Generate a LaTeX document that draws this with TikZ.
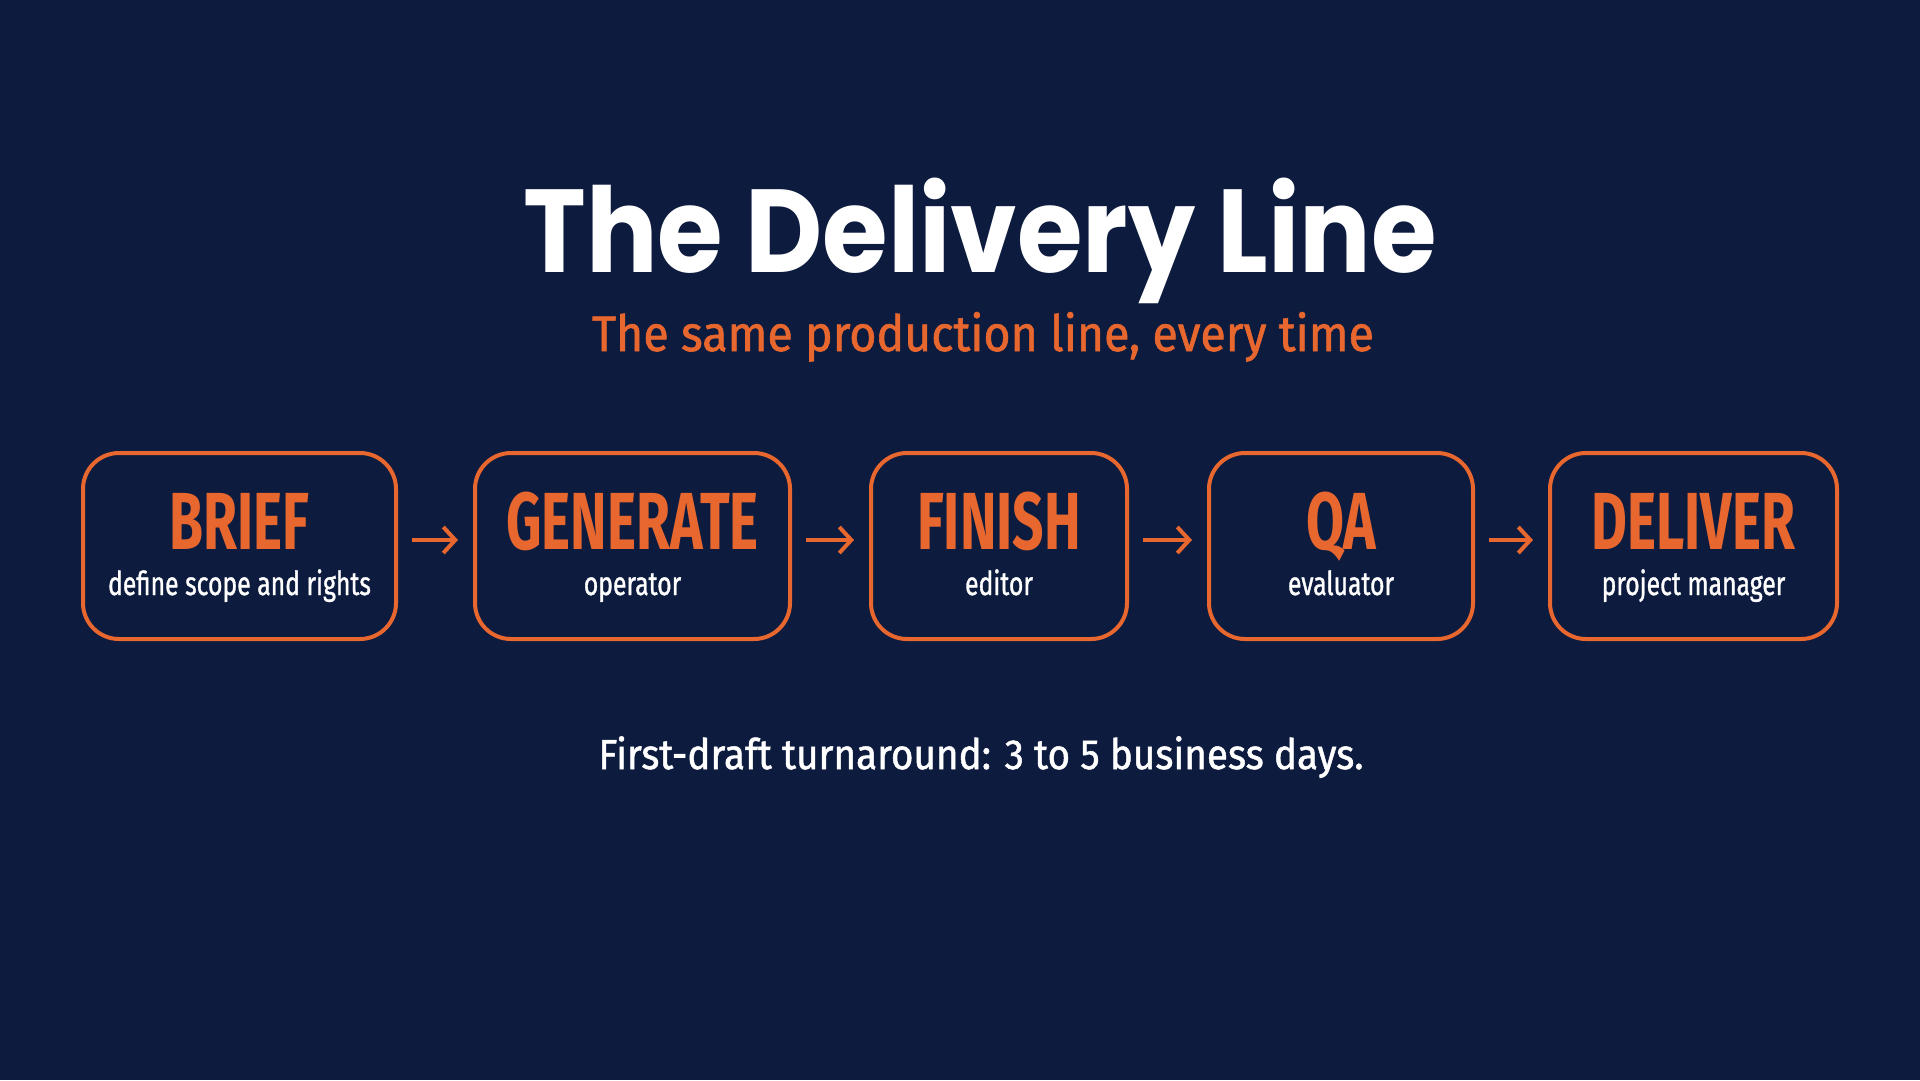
\documentclass[tikz,border=0pt]{standalone}
\usepackage{fontspec}
\usetikzlibrary{arrows.meta,positioning}
\setmainfont{Fira Sans}
\newfontfamily\titlefont[FakeStretch=0.9]{Poppins}
\newfontfamily\medfont[FakeBold=1.2]{Fira Sans}
\newfontfamily\condbold[FakeStretch=0.68]{Fira Sans}
\newfontfamily\condmed[FakeStretch=0.75,FakeBold=1]{Fira Sans}
\definecolor{navy}{HTML}{0D1B3E}
\definecolor{accent}{HTML}{E8672F}
\tikzset{
  stage/.style={draw=accent,line width=4pt,rounded corners=36pt,minimum height=186pt,inner sep=0pt},
  stagename/.style={anchor=base,text=accent,font=\condbold\bfseries\fontsize{81}{81}\selectfont},
  stagerole/.style={anchor=base,text=white,font=\condmed\fontsize{33}{33}\selectfont},
  flow/.style={draw=accent,line width=4pt,-{Straight Barb[length=12pt,width=26pt]}}
}
\begin{document}
\begin{tikzpicture}[x=1pt,y=-1pt]
  \fill[navy] (0,0) rectangle (1920,1080);
  \useasboundingbox (0,0) rectangle (1920,1080);

  \node[anchor=base,text=white,font=\titlefont\bfseries\fontsize{118}{118}\selectfont] (title) at (980,272) {The Delivery Line};
  \node[anchor=base,text=accent,font=\medfont\fontsize{50}{50}\selectfont\addfontfeature{FakeStretch=0.93}] (subtitle) at (983,351) {The same production line, every time};

  \node[stage,minimum width=313pt] (brief) at (239.5,546) {};
  \node[stage,minimum width=315pt] (generate) at (632.5,546) {};
  \node[stage,minimum width=256pt] (finish) at (999,546) {};
  \node[stage,minimum width=264pt] (qa) at (1341,546) {};
  \node[stage,minimum width=287pt] (deliver) at (1693.5,546) {};

  \foreach \s/\name/\role in {brief/BRIEF/define scope and rights, generate/GENERATE/operator,
      finish/FINISH/editor, qa/QA/evaluator, deliver/DELIVER/project manager}{
    \node[stagename] (\s-name) at ([yshift=-3pt]\s.center) {\name};
    \node[stagerole] (\s-role) at ([yshift=-49pt]\s.center) {\role};
  }

  \foreach \a/\b in {brief/generate, generate/finish, finish/qa, qa/deliver}
    \draw[flow] ([xshift=14pt,yshift=6pt]\a.east) -- ([xshift=-15pt,yshift=6pt]\b.west);

  \node[anchor=base,text=white,font=\medfont\fontsize{42}{42}\selectfont\addfontfeature{FakeStretch=0.92}] (turnaround) at (981,769) {First-draft turnaround: 3 to 5 business days.};
\end{tikzpicture}
\end{document}
